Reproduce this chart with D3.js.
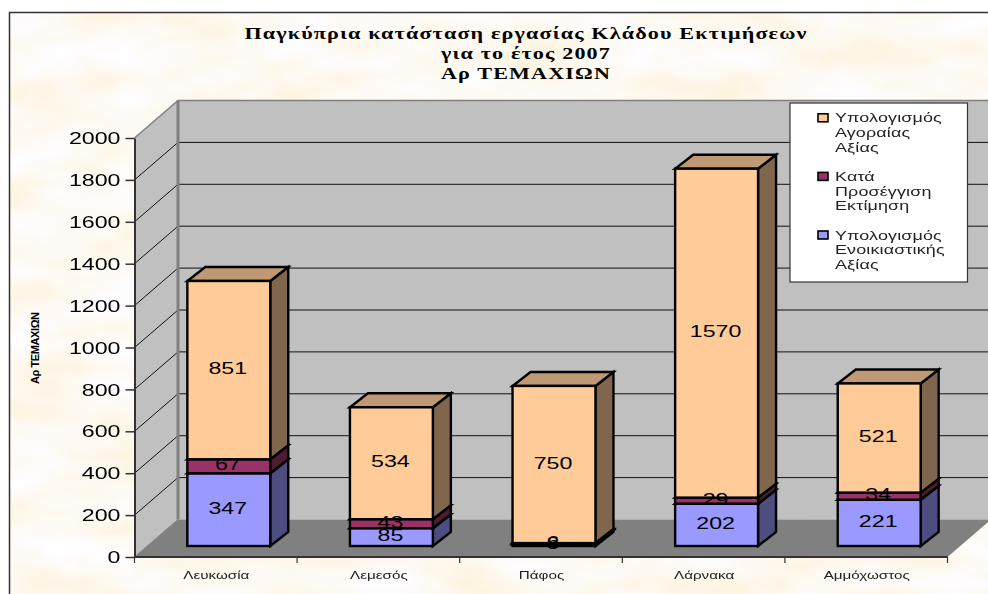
<!DOCTYPE html>
<html lang="el">
<head>
<meta charset="utf-8">
<title>Παγκύπρια κατάσταση εργασίας Κλάδου Εκτιμήσεων</title>
<script src="https://cdn.jsdelivr.net/npm/d3@7"></script>
<style>
html,body{margin:0;padding:0;background:#fff;overflow:hidden}
svg{display:block}
text{font-family:"Liberation Sans",Arial,sans-serif;fill:#000}
.title{font-family:"Liberation Serif","Times New Roman",serif;font-weight:bold;font-size:16px;text-anchor:middle}
</style>
</head>
<body>
<svg id="chart" width="988" height="594"></svg>
<script>
const titleLines = ["Παγκύπρια κατάσταση εργασίας Κλάδου Εκτιμήσεων", "για το έτος 2007", "Αρ ΤΕΜΑΧΙΩΝ"];
const yAxisTitle = "Αρ ΤΕΜΑΧΙΩΝ";
const categories = ["Λευκωσία", "Λεμεσός", "Πάφος", "Λάρνακα", "Αμμόχωστος"];
const rentalValues = [347, 85, 8, 202, 221];
const approxValues = [67, 43, 6, 29, 34];
const marketValues = [851, 534, 750, 1570, 521];
const seriesKeys = ["rental", "approx", "market"];
const seriesColors = {rental: ["#9999ff", "#4d4d80", "#7373bf"], approx: ["#993366", "#4d1a33", "#732650"], market: ["#ffcc99", "#80664d", "#bf9973"]};
const legendLines = {
  market: ["Υπολογισμός", "Αγοραίας", "Αξίας"],
  approx: ["Κατά", "Προσέγγιση", "Εκτίμηση"],
  rental: ["Υπολογισμός", "Ενοικιαστικής", "Αξίας"]
};
const legendOrder = ["market", "approx", "rental"];
const yTicks = d3.range(0, 2001, 200);

const rows = categories.map((c, i) => ({category: c, rental: rentalValues[i], approx: approxValues[i], market: marketValues[i]}));
const stack = d3.stack().keys(seriesKeys)(rows);

const svg = d3.select("#chart");
const defs = svg.append("defs");
const f = defs.append("filter").attr("id", "parchment").attr("x", 0).attr("y", 0).attr("width", "100%").attr("height", "100%");
f.append("feTurbulence").attr("type", "fractalNoise").attr("baseFrequency", "0.012 0.028").attr("numOctaves", 3).attr("seed", 11).attr("result", "n");
f.append("feColorMatrix").attr("in", "n").attr("type", "matrix")
  .attr("values", "0.02 0 0 0 0.98  0.12 0 0 0 0.89  0.42 0 0 0 0.68  0 0 0 0 1");
const soft = defs.append("filter").attr("id", "soft").attr("x", "-2%").attr("y", "-2%").attr("width", "104%").attr("height", "104%");
soft.append("feGaussianBlur").attr("stdDeviation", 0.3);

// frame geometry
const left = 134.5, right = 947.5, y0 = 557, yTop = 138;
const depthX = 43.5, depthY = 37.5;
const barShift = 13, barBase = 11, barDX = 18, barDY = 14;

const x = d3.scaleBand().domain(categories).range([left, right]).paddingInner(0.49).paddingOuter(0.245);
const y = d3.scaleLinear().domain([0, 2000]).range([y0, yTop]);
const poly = pts => pts.map(p => p.join(",")).join(" ");

svg.append("rect").attr("x", 9).attr("y", 12).attr("width", 979).attr("height", 582).attr("fill", "#fdf3dc").attr("filter", "url(#parchment)");
const root = svg.append("g").attr("filter", "url(#soft)");
root.append("path").attr("d", "M9.5,594V12.5H988").attr("fill", "none").attr("stroke", "#333").attr("stroke-width", 1.5);

// walls and floor
root.append("polygon").attr("points", poly([[left, y(2000)], [left + depthX, y(2000) - depthY], [left + depthX, y0 - depthY], [left, y0]])).attr("fill", "#c0c0c0");
root.append("rect").attr("x", left + depthX).attr("y", y(2000) - depthY).attr("width", 988 - left - depthX).attr("height", y0 - y(2000)).attr("fill", "#c0c0c0");
root.append("polygon").attr("points", poly([[left, y0], [right, y0], [right + depthX, y0 - depthY], [left + depthX, y0 - depthY]])).attr("fill", "#808080");

// gridlines
const grid = root.append("g").attr("fill", "none").attr("stroke", "#111").attr("stroke-width", 1);
grid.selectAll("path").data(yTicks.filter(v => v > 0 && v < 2000)).join("path")
  .attr("d", v => `M${left},${y(v)}L${left + depthX},${y(v) - depthY}H988`);
root.append("path").attr("d", `M${left},${y(2000)}L${left + depthX},${y(2000) - depthY}H988`).attr("fill", "none").attr("stroke", "#808080").attr("stroke-width", 1.5);
root.append("line").attr("x1", left + depthX).attr("x2", left + depthX).attr("y1", y(2000) - depthY).attr("y2", y0 - depthY).attr("stroke", "#808080").attr("stroke-width", 3);
root.append("path").attr("d", `M${left},${y0}L${left + depthX},${y0 - depthY}`).attr("fill", "none").attr("stroke", "#808080").attr("stroke-width", 1);

// bars
const bars = root.append("g").attr("stroke", "#000").attr("stroke-width", 2.4).attr("stroke-linejoin", "miter");
stack.forEach(layer => {
  const col = seriesColors[layer.key];
  layer.forEach(d => {
    const x0 = x(d.data.category) + barShift, x1 = x0 + x.bandwidth();
    const yB = y(d[0]) - barBase, yT = y(d[1]) - barBase;
    bars.append("polygon").attr("points", poly([[x1, yB], [x1 + barDX, yB - barDY], [x1 + barDX, yT - barDY], [x1, yT]])).attr("fill", col[1]);
    bars.append("polygon").attr("points", poly([[x0, yT], [x1, yT], [x1 + barDX, yT - barDY], [x0 + barDX, yT - barDY]])).attr("fill", col[2]);
    bars.append("rect").attr("x", x0).attr("y", yT).attr("width", x.bandwidth()).attr("height", yB - yT).attr("fill", col[0]);
  });
});

// axes
const yAxis = d3.axisLeft(y).tickValues(yTicks).tickSize(9).tickSizeOuter(0).tickFormat(d3.format("d"));
const gy = root.append("g").attr("transform", `translate(${left},0)`).call(yAxis);
gy.select(".domain").attr("stroke", "#333").attr("stroke-width", 2);
gy.selectAll(".tick line").attr("stroke", "#333").attr("stroke-width", 1.5);
gy.selectAll(".tick text").attr("x", 0).attr("dy", "0.35em").attr("transform", "translate(-14,0) scale(1.45,1)")
  .style("font-size", "16px").style("fill", "#000").style("font-family", '"Liberation Sans",Arial,sans-serif');

const xAxis = d3.axisBottom(x).tickValues([]).tickSize(0).tickSizeOuter(0);
const gx = root.append("g").attr("transform", `translate(0,${y0})`).call(xAxis);
gx.select(".domain").attr("stroke", "#333").attr("stroke-width", 2).attr("d", `M${left},0H${right}`);
gx.selectAll("line.sep").data(d3.range(categories.length + 1)).join("line").attr("class", "sep")
  .attr("x1", i => x.step() * i + x.range()[0]).attr("x2", i => x.step() * i + x.range()[0])
  .attr("y1", 0).attr("y2", 6).attr("stroke", "#333").attr("stroke-width", 1.2);
gx.selectAll("text.cat").data(categories).join("text").attr("class", "cat")
  .attr("transform", d => `translate(${x(d) + x.bandwidth() / 2 + 0.5},22) scale(1.45,1)`)
  .attr("text-anchor", "middle").style("font-size", "10.5px").style("fill", "#222").text(d => d);

// data labels
const labels = svg.append("g");
stack.forEach(layer => layer.forEach(d => {
  const cx = x(d.data.category) + barShift + x.bandwidth() / 2 - 1;
  const cy = (y(d[0]) + y(d[1])) / 2 - barBase - 1.5;
  labels.append("text").attr("transform", `translate(${cx},${cy}) scale(1.45,1)`)
    .attr("text-anchor", "middle").attr("dy", "0.35em").style("font-size", "16px").text(d[1] - d[0]);
}));

// title
svg.append("g").selectAll("text").data(titleLines).join("text").attr("class", "title")
  .attr("transform", (d, i) => `translate(526,${39 + i * 20}) scale(1.38,1)`).attr("letter-spacing", 0.85).text(d => d);

// y axis title
svg.append("text").attr("transform", "translate(39,348) rotate(-90)").attr("text-anchor", "middle")
  .attr("textLength", 72).attr("lengthAdjust", "spacing")
  .style("font-size", "11px").style("font-weight", "bold").text(yAxisTitle);

// legend
const legend = root.append("g");
legend.append("rect").attr("x", 790).attr("y", 103).attr("width", 177.5).attr("height", 179).attr("fill", "#fff").attr("stroke", "#333").attr("stroke-width", 1.2);
legendOrder.forEach((key, i) => {
  const top = 122.3 + i * 58.6;
  legend.append("rect").attr("x", 818).attr("y", top - 8.5).attr("width", 10).attr("height", 8).attr("fill", seriesColors[key][0]).attr("stroke", "#000").attr("stroke-width", 1.6);
  legendLines[key].forEach((t, j) => {
    legend.append("text").attr("transform", `translate(835,${top + j * 14.6}) scale(1.38,1)`).style("font-size", "13px").attr("letter-spacing", 0.1).style("fill", "#222").text(t);
  });
});
</script>
</body>
</html>
